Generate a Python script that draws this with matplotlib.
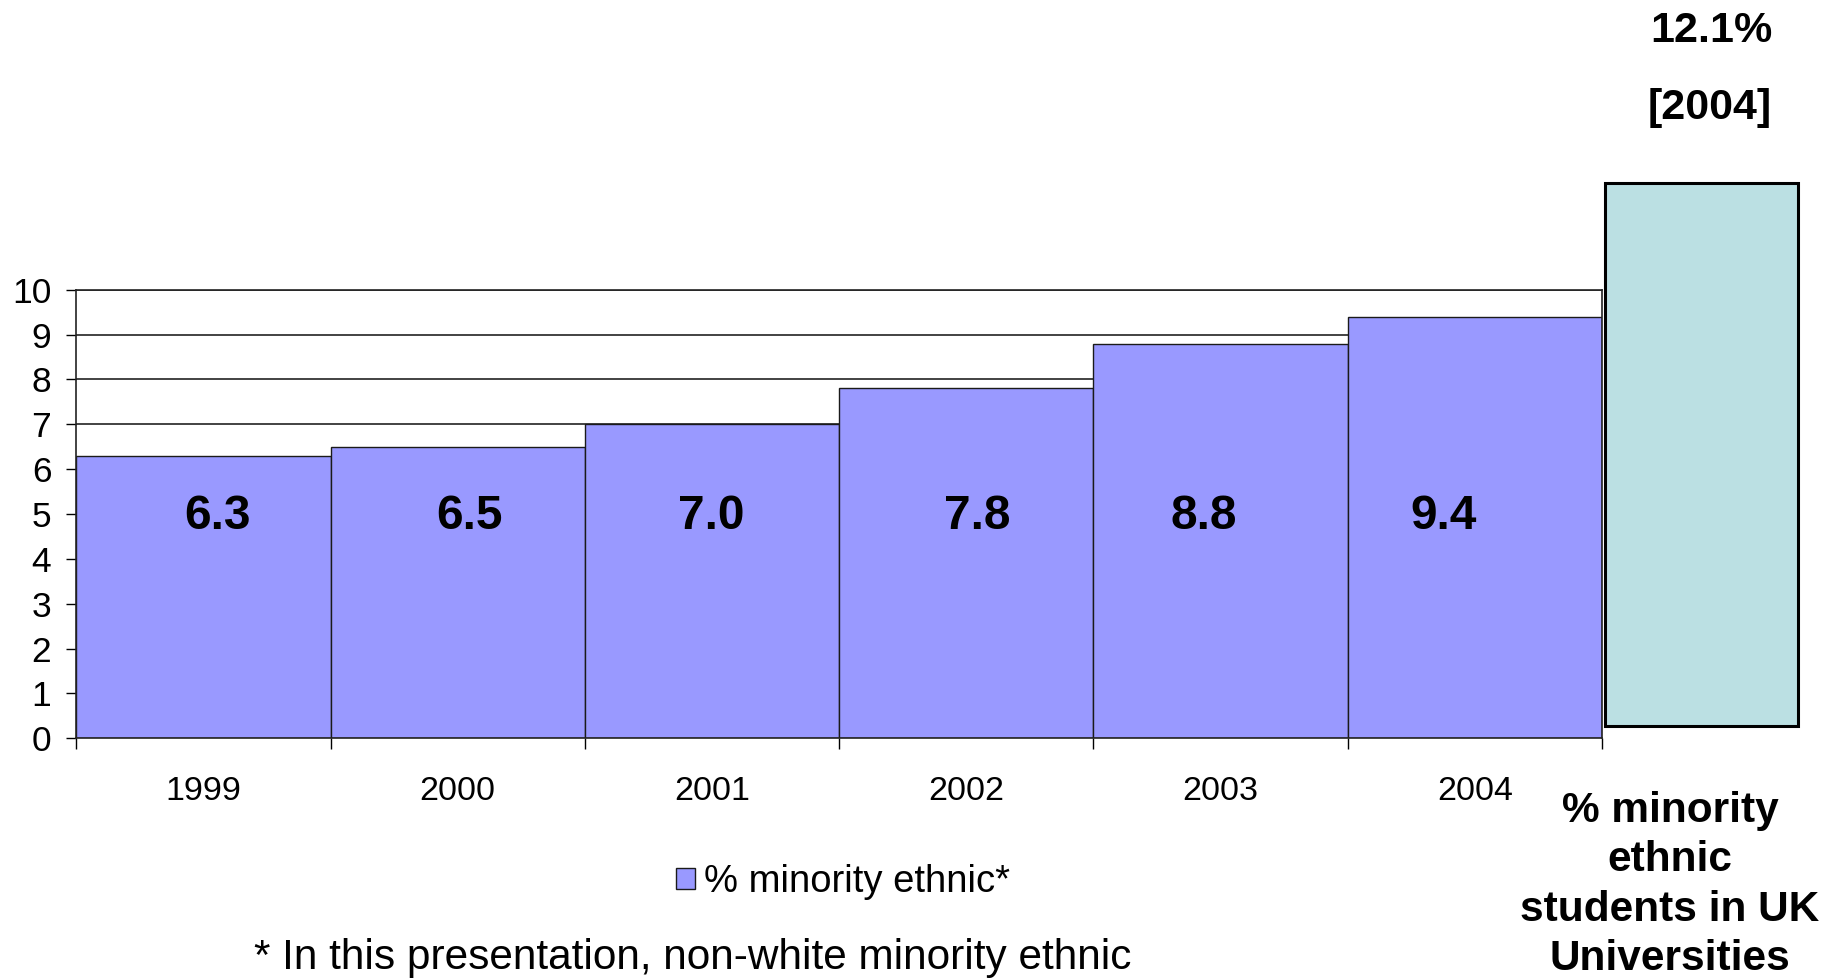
import matplotlib
matplotlib.use("Agg")
import matplotlib.pyplot as plt
from matplotlib import font_manager
import numpy as np

# ---- data ----
years = ["1999", "2000", "2001", "2002", "2003", "2004"]
minority_pct = [6.3, 6.5, 7.0, 7.8, 8.8, 9.4]
value_labels = ["6.3", "6.5", "7.0", "7.8", "8.8", "9.4"]
uk_value = 12.1
uk_year = "2004"
legend_label = "% minority ethnic*"
uk_caption = "% minority\nethnic\nstudents in UK\nUniversities"
footnote = "* In this presentation, non-white minority ethnic"
yticks = list(range(0, 11))

# ---- layout / style ----
label_dx = [0.055, 0.048, -0.004, 0.044, -0.066, -0.122]
names = {f.name for f in font_manager.fontManager.ttflist}
base_font = "Liberation Sans" if "Liberation Sans" in names else "DejaVu Sans"
narrow_font = "Liberation Sans Narrow" if "Liberation Sans Narrow" in names else base_font
plt.rcParams["font.family"] = [base_font, "DejaVu Sans"]

W, H = 1829, 980
fig = plt.figure(figsize=(W / 100, H / 100), dpi=100)
fig.patch.set_facecolor("white")
ax = fig.add_axes([76.3 / W, 1 - 738.3 / H, (1602 - 76.3) / W, (738.3 - 289.7) / H])

x = np.arange(len(years)) + 0.5
ax.set_axisbelow(True)
ax.yaxis.grid(True, color="#222222", linewidth=1.2)
ax.bar(x, minority_pct, width=1.0, color="#9999FF", edgecolor="#1a1a1a",
       linewidth=1.0, zorder=2, label=legend_label)

for xi, dx, v, lab in zip(x, label_dx, minority_pct, value_labels):
    ax.text(xi + dx, 4.95, lab, ha="center", va="center", fontsize=34.5,
            fontweight="bold", color="black", zorder=3)

# UK comparison box
ax.bar([6.39], [uk_value], width=0.76, bottom=0.27, color="#BBE0E3",
       edgecolor="black", linewidth=2.2, clip_on=False, zorder=2)

ax.set_xlim(0, len(years))
ax.set_ylim(0, 10)
ax.set_yticks(yticks)
ax.set_yticklabels([str(t) for t in yticks])
ax.tick_params(axis="y", direction="out", length=7, width=1.0, pad=11,
               labelsize=25.5, colors="black")

ax.set_xticks(np.arange(len(years) + 1))
ax.set_xticklabels([])
ax.set_xticks(x, minor=True)
ax.set_xticklabels(years, minor=True)
ax.tick_params(axis="x", which="major", direction="out", length=8, width=1.0)
ax.tick_params(axis="x", which="minor", length=0, pad=27, labelsize=24.5)

for s in ax.spines.values():
    s.set_color("#222222")
    s.set_linewidth(1.2)

# legend
leg = fig.legend(loc="center", bbox_to_anchor=(843 / W, 1 - 882 / H), frameon=False,
                 fontsize=27.5, handlelength=0.5, handleheight=0.5, handletextpad=0.25)

# top-right annotation
fig.text(1711 / W, 1 - 31 / H, f"{uk_value}%", ha="center", va="center",
         fontsize=31, fontweight="bold")
fig.text(1710 / W, 1 - 108 / H, f"[{uk_year}]", ha="center", va="center",
         fontsize=31, fontweight="bold")

fig.text(1670 / W, 1 - 885 / H, uk_caption, ha="center", va="center",
         fontsize=30.5, fontweight="bold", linespacing=1.31)

fig.text(693 / W, 1 - 958 / H, footnote, ha="center", va="center",
         fontsize=30.5, family=[narrow_font, "DejaVu Sans"])

fig.savefig("out.png", dpi=100, facecolor="white")
